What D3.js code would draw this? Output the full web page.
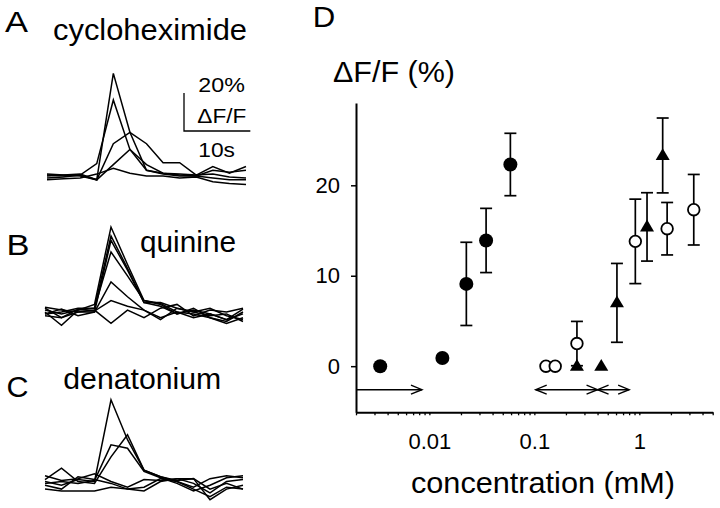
<!DOCTYPE html>
<html>
<head>
<meta charset="utf-8">
<script src="https://cdn.jsdelivr.net/npm/d3@7"></script>
<style>
  html, body { margin: 0; padding: 0; background: #fff; }
  svg { display: block; font-family: "Liberation Sans", Arial, sans-serif; }
</style>
</head>
<body>
<svg id="chart" width="720" height="508"></svg>
<script>
// ---------------- DATA ----------------
// Traces (ΔF/F in %), sampled every 2.5 s
const traceTime = [0, 2.5, 5, 7.5, 10, 12.5, 15, 17.5, 20, 22.5, 25, 27.5, 30];
const tracesCyclo = [
  [0, 0.5, 1, -2, 54, 23, 3, 1, 0, 0, 3, 2, 3],
  [-1, -0.5, 0.5, 6.5, 40, 14, 3, 1.5, 0.5, 0, -1, -2, -2],
  [1, 0.5, 0, -2, 17, 23, 17, 7, 7, 0.5, 5, 1.5, 5],
  [0.5, 0, 0.5, -2, 6, 14, 6, 1.5, 1, 0.5, 1, -0.5, -1],
  [-2, -1.5, -1, 1, 4, 1.5, 0, 0, -1, -0.5, -3, -4, -4.5]
];
const tracesQuinine = [
  [1, -1, 1, 4, 44.7, 25, 6, 4.5, 0, -3, -1, -4, -1],
  [-1, 0, 2, 2, 40, 23, 5, 5, 2, 0, -2, -1, -5],
  [2, -3, 0, 0, 37.7, 22, 5, 3, -1, 2, -3, -6, -3],
  [0, -7, 1, 2, 31.6, 19, 6, 4, -1, 1, -1, -4, 1.5],
  [-1, 1.5, -2, 0, 15.8, 8, 1, -4, 2, 0, 2, -2, -4],
  [2.5, 1, 0, 1, -6, 1, -3, 2, 4, -2, 1, 0, 2],
  [-2, -3, 1.5, 0.5, 6, 3, 1, -3, 0, -1, -3, -5, 0]
];
const tracesDenat = [
  [0, -2, 1, 0, 43, 22, 6, 2.5, 0, -4, -8, -3, -4],
  [-1, 0, -1, 0.5, 19.3, 17.5, 5.3, 2, -1, -5, -2, 2, 3],
  [1, 7, 0, -1, 13, 24.6, 6, 2.5, 0.5, 1.5, -4, -1, -4],
  [-2, -4, 2.5, 1, -1, -4, -3, 1.5, 0, -3, 1.5, 3, 2],
  [-4, -5, -5, -5, -3, -4, -5, 0, 1.5, -1, -6, 0, 1],
  [3, 0.5, 1.5, 4, 0, -3, 1, 0.5, 1.5, 1.5, -9.6, -4, -2]
];
const scaleBarPct = 20;   // % ΔF/F
const scaleBarSec = 10;   // s

// Dose-response (panel D)
const filledConc = [0.0034, 0.0133, 0.0225, 0.0347, 0.0591];
const filledResp = [0, 0.9, 9.1, 13.9, 22.3];
const filledErr  = [0, 0, 4.6, 3.55, 3.45];

const openConc = [0.129, 0.158, 0.2545, 0.916, 1.84, 3.3];
const openResp = [0, 0, 2.5, 13.8, 15.2, 17.3];
const openErr  = [0, 0, 2.45, 4.67, 2.9, 3.9];

const triConc = [0.2545, 0.434, 0.612, 1.184, 1.669];
const triResp = [0, 0, 7.0, 15.4, 23.3];
const triErr  = [0, 0, 4.36, 3.78, 4.14];

const arrowFrom = [0.002, 0.103, 0.40];
const arrowTo   = [0.0085, 0.40, 0.80];
const arrowBoth = [false, true, true];
const arrowLevel = -2.6;

const xDomain = [0.002, 5];
const yDomain = [-5.1, 29.1];
const xTickValues = [0.01, 0.1, 1];
const xTickLabels = ["0.01", "0.1", "1"];
const yTickValues = [0, 10, 20];
const yTickLabels = ["0", "10", "20"];

// ---------------- DRAW ----------------
const svg = d3.select("#chart");
svg.append("rect").attr("width", 720).attr("height", 508).attr("fill", "#fff");

function label(txt, x, y, size, len) {
  const t = svg.append("text").attr("x", x).attr("y", y)
    .attr("font-size", size).attr("fill", "#000").text(txt);
  if (len) t.attr("textLength", len).attr("lengthAdjust", "spacingAndGlyphs");
  return t;
}

// ---- Traces ----
const pxPerPct = 1.9;
function drawTraces(data, x0, x1, baseY) {
  const xs = d3.scaleLinear().domain([0, 30]).range([x0, x1]);
  const ys = d3.scaleLinear().domain([0, 1]).range([baseY, baseY - pxPerPct]);
  const line = d3.line().x((d, i) => xs(traceTime[i])).y(d => ys(d));
  svg.append("g").selectAll("path").data(data).join("path")
    .attr("d", line).attr("fill", "none").attr("stroke", "#000")
    .attr("stroke-width", 1.5).attr("stroke-linejoin", "miter");
  return { xs, ys };
}
const sA = drawTraces(tracesCyclo, 47, 246, 176);
drawTraces(tracesQuinine, 45, 243, 312);
drawTraces(tracesDenat, 45, 243, 481.5);

// scale bar
const sbX = 184, sbY = 131;
const sbH = sA.ys(0) - sA.ys(scaleBarPct);
const sbW = sA.xs(scaleBarSec) - sA.xs(0);
svg.append("path")
  .attr("d", `M${sbX},${sbY - sbH}V${sbY}H${sbX + sbW}`)
  .attr("fill", "none").attr("stroke", "#000").attr("stroke-width", 1.3);

label("A", 5, 32, 30, 23);
label("cycloheximide", 53, 40, 30, 194);
label("B", 6.5, 255, 29, 23);
label("quinine", 140, 251.7, 30, 96);
label("C", 6.5, 397, 29, 22);
label("denatonium", 63.3, 389.3, 30, 158);
label("20%", 198.3, 91.7, 21, 46.5);
label("\u0394F/F", 197.3, 123.3, 21, 49);
label("10s", 198.3, 156.7, 21, 36.7);

// ---- Panel D ----
const x = d3.scaleLog().domain(xDomain).range([356, 712.7]);
const y = d3.scaleLinear().domain(yDomain).range([412.3, 103]);

// minor/major tick positions for the log axis
const logTicks = [];
for (let k = -3; k <= 0; k++) for (let m = 1; m <= 9; m++) {
  const v = m * Math.pow(10, k);
  if (v >= xDomain[0] - 1e-12 && v <= xDomain[1] + 1e-12) logTicks.push(+v.toPrecision(6));
}
const xAxis = d3.axisBottom(x).tickValues(logTicks).tickSizeInner(3).tickSizeOuter(0)
  .tickPadding(18)
  .tickFormat(d => { const i = xTickValues.findIndex(v => Math.abs(v - d) < 1e-9); return i >= 0 ? xTickLabels[i] : ""; });
const gx = svg.append("g").attr("transform", `translate(0,${y(yDomain[0])})`).call(xAxis);
gx.select(".domain").attr("stroke-width", 2).attr("stroke", "#000");
gx.selectAll(".tick line").attr("stroke-width", 1.3).attr("stroke", "#000");
gx.selectAll(".tick text").attr("font-size", 22).attr("font-family", "Liberation Sans, Arial, sans-serif").attr("fill", "#000");

const yAxis = d3.axisLeft(y).tickValues(yTickValues).tickSizeInner(5).tickSizeOuter(0)
  .tickPadding(11).tickFormat((d, i) => yTickLabels[i]);
const gy = svg.append("g").attr("transform", `translate(${x(xDomain[0])},0)`).call(yAxis);
gy.select(".domain").attr("stroke-width", 2).attr("stroke", "#000");
gy.selectAll(".tick line").attr("stroke-width", 1.5).attr("stroke", "#000");
gy.selectAll(".tick text").attr("font-size", 22).attr("font-family", "Liberation Sans, Arial, sans-serif").attr("fill", "#000");

label("D", 312.7, 27, 30, 22.5);
label("\u0394F/F (%)", 333, 82, 29, 122);
label("concentration (mM)", 411, 493, 29, 264);

// arrows
const ag = svg.append("g").attr("stroke", "#000").attr("fill", "none").attr("stroke-width", 1.4);
arrowFrom.forEach((f, i) => {
  const xa = x(f), xb = x(arrowTo[i]), ya = y(arrowLevel);
  ag.append("line").attr("x1", xa).attr("x2", xb).attr("y1", ya).attr("y2", ya);
  ag.append("path").attr("d", `M${xb - 11},${ya - 4.5}L${xb},${ya}L${xb - 11},${ya + 4.5}`);
  if (arrowBoth[i]) ag.append("path").attr("d", `M${xa + 11},${ya - 4.5}L${xa},${ya}L${xa + 11},${ya + 4.5}`);
});

// error bars
function errorBars(conc, resp, err) {
  const g = svg.append("g").attr("stroke", "#000").attr("stroke-width", 1.7);
  conc.forEach((c, i) => {
    if (!err[i]) return;
    const cx = x(c), yt = y(resp[i] + err[i]), yb = y(resp[i] - err[i]);
    g.append("line").attr("x1", cx).attr("x2", cx).attr("y1", yt).attr("y2", yb);
    g.append("line").attr("x1", cx - 6).attr("x2", cx + 6).attr("y1", yt).attr("y2", yt);
    g.append("line").attr("x1", cx - 6).attr("x2", cx + 6).attr("y1", yb).attr("y2", yb);
  });
}
errorBars(filledConc, filledResp, filledErr);
errorBars(openConc, openResp, openErr);
errorBars(triConc, triResp, triErr);

// markers
svg.append("g").selectAll("circle").data(filledConc).join("circle")
  .attr("cx", d => x(d)).attr("cy", (d, i) => y(filledResp[i])).attr("r", 7).attr("fill", "#000");
svg.append("g").selectAll("circle").data(openConc).join("circle")
  .attr("cx", d => x(d)).attr("cy", (d, i) => y(openResp[i])).attr("r", 5.8)
  .attr("fill", "#fff").attr("stroke", "#000").attr("stroke-width", 1.8);
svg.append("g").selectAll("path").data(triConc).join("path")
  .attr("transform", (d, i) => `translate(${x(d)},${y(triResp[i])})`)
  .attr("d", "M0,-7.3L7,4.5L-7,4.5Z").attr("fill", "#000");
</script>
</body>
</html>
